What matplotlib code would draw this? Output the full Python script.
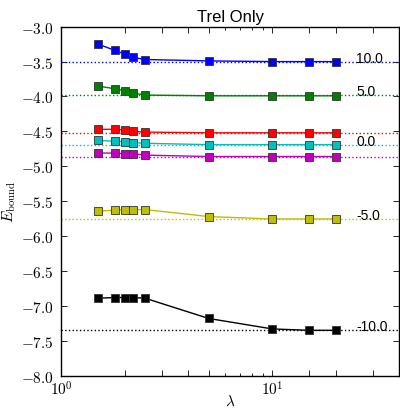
import matplotlib
matplotlib.use("Agg")
import matplotlib.pyplot as plt
import numpy as np

lam = [1.5, 1.8, 2.0, 2.2, 2.5, 5.0, 10.0, 15.0, 20.0]
series_labels = ["10.0", "5.0", "", "0.0", "", "-5.0", "-10.0"]
colors = ["b", "g", "r", "c", "m", "y", "k"]
E_blue = [-3.25, -3.34, -3.39, -3.44, -3.47, -3.49, -3.50, -3.50, -3.50]
E_green = [-3.85, -3.89, -3.92, -3.95, -3.98, -3.99, -3.99, -3.99, -3.99]
E_red = [-4.47, -4.47, -4.48, -4.50, -4.51, -4.52, -4.52, -4.52, -4.52]
E_cyan = [-4.63, -4.64, -4.65, -4.66, -4.67, -4.69, -4.69, -4.69, -4.69]
E_magenta = [-4.81, -4.81, -4.82, -4.82, -4.84, -4.86, -4.86, -4.86, -4.86]
E_yellow = [-5.64, -5.63, -5.62, -5.62, -5.62, -5.72, -5.755, -5.755, -5.755]
E_black = [-6.89, -6.88, -6.88, -6.88, -6.89, -7.18, -7.33, -7.35, -7.35]
E_limit = [-3.50, -3.98, -4.525, -4.69, -4.865, -5.755, -7.345]
series = [E_blue, E_green, E_red, E_cyan, E_magenta, E_yellow, E_black]

yticks = [-3.0, -3.5, -4.0, -4.5, -5.0, -5.5, -6.0, -6.5, -7.0, -7.5, -8.0]

plt.rcParams['mathtext.fontset'] = 'cm'

fig = plt.figure(figsize=(4.0, 4.1), dpi=100)
ax = fig.add_axes([61/400, 1-376.7/410, (399.5-61)/400, (376.7-27.7)/410])

for E, c, lim, lab in zip(series, colors, E_limit, series_labels):
    ax.axhline(lim, color=c, ls=':', lw=1.0)
    ax.plot(lam, E, '-s', color=c, lw=1.0, ms=6, mec='#333333', mew=0.6)
    if lab:
        ax.text(25, lim, lab, fontsize=10, family='Liberation Sans', va='baseline', ha='left')

ax.set_xscale('log')
ax.set_xlim(1, 40)
ax.set_ylim(-8.0, -3.0)

ax.set_xticks([1, 2, 3, 4, 5, 10, 15, 20, 30])
ax.set_xticklabels([r'$10^{0}$', '', '', '', '', r'$10^{1}$', '', '', ''])
ax.set_xticks([6, 7, 8, 9], minor=True)
ax.set_xticklabels([], minor=True)
ax.set_yticks(yticks)
ax.set_yticklabels([r'$%.1f$' % v for v in yticks])

ax.tick_params(which='both', direction='in', top=True, right=True, labelsize=11)
ax.tick_params(which='major', length=4, width=0.6)
ax.tick_params(which='minor', length=2, width=0.6)
ax.tick_params(axis='x', pad=3)
ax.tick_params(axis='y', pad=5)
for s in ax.spines.values():
    s.set_linewidth(1.0)

ax.set_title('Trel Only', fontsize=12, family='Liberation Sans', pad=4)
ax.set_xlabel(r'$\lambda$', fontsize=11, labelpad=-4)
ax.set_ylabel(r'$E_{\rm bound}$', fontsize=11, labelpad=2)

fig.savefig('out.png', dpi=100)
